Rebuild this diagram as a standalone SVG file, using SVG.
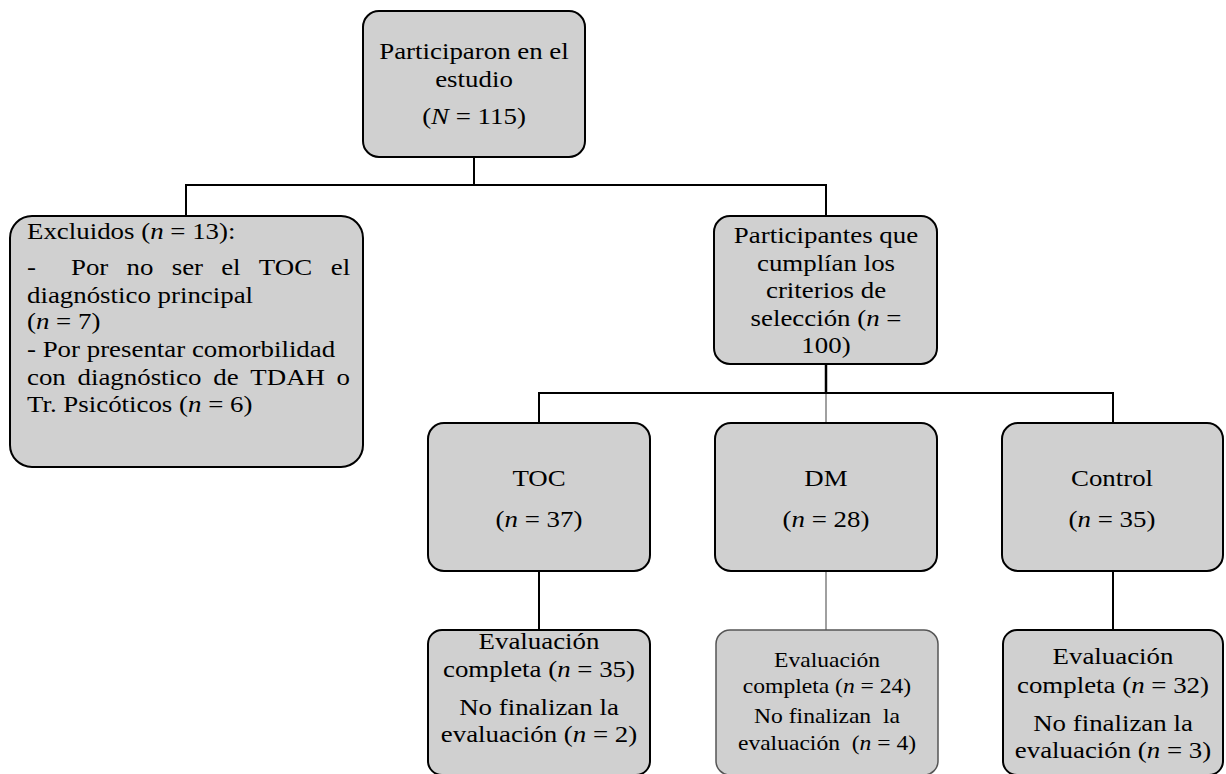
<svg xmlns="http://www.w3.org/2000/svg" width="1226" height="774" viewBox="0 0 1226 774">
<style>
.box{fill:#d0d0d0;stroke:#000;stroke-width:2}
.boxg{fill:#d0d0d0;stroke:#555;stroke-width:1.5}
.t{font-family:"Liberation Serif","Times New Roman",serif;font-size:24px;fill:#000}
.s{font-family:"Liberation Serif","Times New Roman",serif;font-size:20.5px;fill:#000}
.i{font-style:italic}
.ln{fill:none;stroke:#000;stroke-width:2}
.lg{fill:none;stroke:#808080;stroke-width:1.5}
</style>
<rect width="1226" height="774" fill="#fff"/>
<g id="connectors">
<path class="ln" d="M474 157V185M186 216V185H826V216"/>
<path class="ln" d="M826 364V393" style="stroke-width:2.5"/>
<path class="ln" d="M539 423V393H1113V423"/>
<path class="lg" d="M826 394V423"/>
<path class="ln" d="M539 571V630"/>
<path class="lg" d="M826 571V630"/>
<path class="ln" d="M1113 571V630"/>
</g>
<g id="n-participaron">
<rect class="box" x="363" y="11" width="222" height="146" rx="16"/>
<text class="t" transform="translate(474 0) scale(1.12 1)" text-anchor="middle"><tspan x="0" y="59">Participaron en el</tspan><tspan x="0" y="87">estudio</tspan><tspan x="0" y="124">(<tspan class="i">N</tspan> = 115)</tspan></text>
</g>
<g id="n-excluidos">
<rect class="box" x="10" y="216" width="353" height="251" rx="22"/>
<text class="t" transform="translate(27 0) scale(1.12 1)"><tspan x="0" y="239">Excluidos (<tspan class="i">n</tspan> = 13):</tspan></text>
<text class="t" transform="scale(1.12 1)"><tspan x="24.1" y="275">-</tspan><tspan x="63.4" y="275">Por</tspan><tspan x="112.9" y="275">no</tspan><tspan x="153.3" y="275">ser</tspan><tspan x="197.5" y="275">el</tspan><tspan x="231.1" y="275">TOC</tspan><tspan x="295.4" y="275">el</tspan></text>
<text class="t" transform="translate(27 0) scale(1.12 1)"><tspan x="0" y="303">diagnóstico principal</tspan><tspan x="0" y="329">(<tspan class="i">n</tspan> = 7)</tspan><tspan x="0" y="357">- Por presentar comorbilidad</tspan></text>
<text class="t" transform="scale(1.12 1)"><tspan x="24.1" y="385">con</tspan><tspan x="69.2" y="385">diagnóstico</tspan><tspan x="190.4" y="385">de</tspan><tspan x="223.5" y="385">TDAH</tspan><tspan x="300.5" y="385">o</tspan></text>
<text class="t" transform="translate(27 0) scale(1.12 1)"><tspan x="0" y="412">Tr. Psicóticos (<tspan class="i">n</tspan> = 6)</tspan></text>
</g>
<g id="n-seleccion">
<rect class="box" x="714" y="216" width="223" height="148" rx="16"/>
<text class="t" transform="translate(826 0) scale(1.12 1)" text-anchor="middle"><tspan x="0" y="243">Participantes que</tspan><tspan x="0" y="271">cumplían los</tspan><tspan x="0" y="298">criterios de</tspan><tspan x="0" y="326">selección (<tspan class="i">n</tspan> =</tspan><tspan x="0" y="353">100)</tspan></text>
</g>
<g id="n-toc">
<rect class="box" x="428" y="423" width="222" height="148" rx="16"/>
<text class="t" transform="translate(539 0) scale(1.12 1)" text-anchor="middle"><tspan x="0" y="486">TOC</tspan><tspan x="0" y="527">(<tspan class="i">n</tspan> = 37)</tspan></text>
</g>
<g id="n-dm">
<rect class="box" x="715" y="423" width="222" height="148" rx="16"/>
<text class="t" transform="translate(826 0) scale(1.12 1)" text-anchor="middle"><tspan x="0" y="486">DM</tspan><tspan x="0" y="527">(<tspan class="i">n</tspan> = 28)</tspan></text>
</g>
<g id="n-control">
<rect class="box" x="1002" y="423" width="221" height="148" rx="16"/>
<text class="t" transform="translate(1112 0) scale(1.12 1)" text-anchor="middle"><tspan x="0" y="486">Control</tspan><tspan x="0" y="527">(<tspan class="i">n</tspan> = 35)</tspan></text>
</g>
<g id="n-toc-eval">
<rect class="box" x="428" y="630" width="222" height="145" rx="14"/>
<text class="t" transform="translate(539 0) scale(1.12 1)" text-anchor="middle"><tspan x="0" y="649">Evaluación</tspan><tspan x="0" y="677">completa (<tspan class="i">n</tspan> = 35)</tspan><tspan x="0" y="715">No finalizan la</tspan><tspan x="0" y="742">evaluación (<tspan class="i">n</tspan> = 2)</tspan></text>
</g>
<g id="n-dm-eval">
<rect class="boxg" x="716" y="630" width="222" height="145" rx="14"/>
<text class="s" xml:space="preserve" transform="translate(827 0) scale(1.15 1)" text-anchor="middle"><tspan x="0" y="667">Evaluación</tspan><tspan x="0" y="693">completa (<tspan class="i">n</tspan> = 24)</tspan><tspan x="0" y="723">No finalizan  la</tspan><tspan x="0" y="750">evaluación  (<tspan class="i">n</tspan> = 4)</tspan></text>
</g>
<g id="n-control-eval">
<rect class="box" x="1003" y="630" width="220" height="145" rx="14"/>
<text class="t" transform="translate(1113 0) scale(1.12 1)" text-anchor="middle"><tspan x="0" y="664">Evaluación</tspan><tspan x="0" y="693">completa (<tspan class="i">n</tspan> = 32)</tspan><tspan x="0" y="731">No finalizan la</tspan><tspan x="0" y="758">evaluación (<tspan class="i">n</tspan> = 3)</tspan></text>
</g>
</svg>
